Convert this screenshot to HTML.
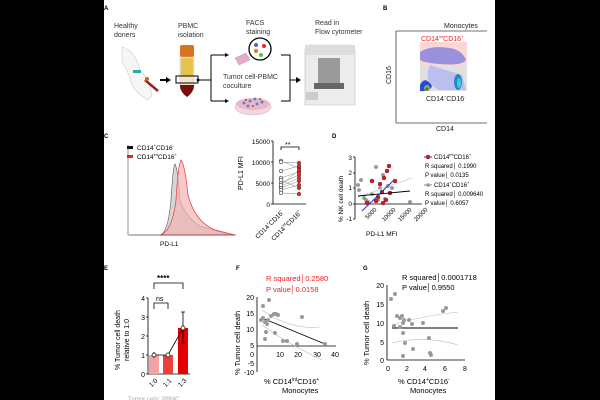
<!DOCTYPE html>
<html><head><meta charset="utf-8"><style>
html,body{margin:0;padding:0;background:#000;}
svg{display:block;font-family:"Liberation Sans",sans-serif;}
</style></head><body>
<svg width="600" height="400" viewBox="0 0 600 400" xmlns="http://www.w3.org/2000/svg">
<rect x="0" y="0" width="600" height="400" fill="#000"/>
<rect x="104" y="0" width="391" height="400" fill="#fff"/>
<g font-size="7" fill="#333">
<text x="104" y="10" font-weight="bold" font-size="6" fill="#000">A</text>
<text x="114" y="28">Healthy</text><text x="114" y="37">doners</text>
<text x="178" y="28">PBMC</text><text x="178" y="37">isolation</text>
<text x="246" y="25">FACS</text><text x="246" y="34">staining</text>
<text x="315" y="25">Read in</text><text x="315" y="34">Flow cytometer</text>
<text x="223" y="79">Tumor cell-PBMC</text><text x="223" y="88">coculture</text>
</g>
<path d="M122 47 Q135 50 140 70 Q150 80 152 95 L148 100 Q138 95 132 85 Q128 70 122 62Z" fill="#f6f6f6" stroke="#ccc" stroke-width="0.6"/>
<rect x="133" y="70" width="8" height="3" fill="#2aa"/>
<line x1="145" y1="80" x2="158" y2="91" stroke="#922" stroke-width="2.5"/>
<circle cx="147" cy="79" r="2" fill="#d60"/>
<path d="M160 80 L168 80" stroke="#000" stroke-width="2"/><path d="M166 77 L171 80 L166 83Z" fill="#000"/>
<rect x="180" y="45" width="14" height="12" rx="2" fill="#d9731f"/>
<path d="M180 57 L194 57 L194 88 Q187 100 180 88Z" fill="#f1e7c7" stroke="#bbb" stroke-width="0.5"/>
<rect x="181" y="58" width="12" height="18" fill="#e6c34a"/>
<path d="M180 85 L194 85 Q194 92 187 97 Q180 92 180 85Z" fill="#7a0e0e"/>
<rect x="176" y="76" width="22" height="7" fill="none" stroke="#000" stroke-width="1"/>
<circle cx="198" cy="80" r="1.5" fill="#000"/>
<path d="M198 80 H211 M211 55 V101 M211 55 H226 M211 101 H226" stroke="#000" stroke-width="1" fill="none"/>
<path d="M225 53 L229 55 L225 57Z M225 99 L229 101 L225 103Z" fill="#000"/>
<path d="M235 58 L246 53 L250 60 L239 65Z" fill="#e7a9c8" stroke="#999" stroke-width="0.4"/>
<circle cx="260" cy="49" r="11" fill="#fff" stroke="#000" stroke-width="1.3"/>
<circle cx="256" cy="45" r="2" fill="#56a"/><circle cx="264" cy="46" r="2" fill="#e22"/><circle cx="256" cy="51" r="2" fill="#c80"/><circle cx="261" cy="55" r="2" fill="#4c4"/>
<ellipse cx="253" cy="107" rx="18" ry="8" fill="#f4d6dc" stroke="#bbb" stroke-width="0.5"/>
<ellipse cx="253" cy="104" rx="17" ry="6" fill="#e7b9c8"/>
<g fill="#6a7fc0"><circle cx="244" cy="103" r="1.5"/><circle cx="250" cy="101" r="1.5"/><circle cx="257" cy="104" r="1.5"/><circle cx="262" cy="102" r="1.5"/><circle cx="248" cy="106" r="1.5"/><circle cx="255" cy="99" r="1.5"/></g>
<g fill="#e24"><circle cx="246" cy="100" r="1"/><circle cx="253" cy="106" r="1"/><circle cx="260" cy="99" r="1"/></g>
<path d="M281 55 H290 V101 H281 M290 80 H297" stroke="#000" stroke-width="1" fill="none"/>
<path d="M296 77 L301 80 L296 83Z" fill="#000"/>
<path d="M305 50 Q305 45 310 45 L350 45 Q355 45 355 50 L355 105 L305 105Z" fill="#ececec" stroke="#bbb" stroke-width="0.6"/>
<rect x="305" y="45" width="50" height="10" fill="#ddd"/>
<rect x="318" y="58" width="22" height="25" fill="#9a9a9a"/>
<rect x="314" y="83" width="30" height="6" fill="#666"/>
<rect x="306" y="92" width="12" height="8" fill="#ccc"/>
<text x="383" y="10" font-weight="bold" font-size="6">B</text>
<text x="444" y="28" font-size="7" fill="#222">Monocytes</text>
<rect x="420" y="42" width="47" height="23" fill="#fbd6d6"/>
<rect x="420" y="65" width="47" height="26" fill="#e0e0e0"/>
<path d="M420 52 Q430 45 450 48 Q462 50 466 60 Q462 66 440 64 Q425 63 420 60Z" fill="#5a62e0" opacity="0.6"/>
<path d="M430 65 Q445 70 462 75 L466 90 L440 90 Q425 85 428 70Z" fill="#aab0f2" opacity="0.7"/>
<path d="M420 85 Q425 75 432 86 Q430 92 420 91Z" fill="#2a4ad6"/>
<circle cx="427" cy="88" r="3" fill="#5c5"/><circle cx="427" cy="89" r="1.5" fill="#e22"/>
<ellipse cx="458" cy="82" rx="4" ry="8" fill="#28c"/><ellipse cx="459" cy="83" rx="2" ry="5" fill="#4cc"/>
<path d="M396 31 V123 H487 M396 31 H487" stroke="#444" stroke-width="0.8" fill="none"/>
<text x="421" y="41" font-size="7" fill="#e22">CD14<tspan font-size="4" dy="-3">int</tspan><tspan dy="3">CD16</tspan><tspan font-size="4" dy="-3">+</tspan></text>
<text x="426" y="101" font-size="7" fill="#222">CD14<tspan font-size="4" dy="-3">+</tspan><tspan dy="3">CD16</tspan><tspan font-size="4" dy="-3">-</tspan></text>
<text transform="translate(391,84) rotate(-90)" font-size="7" fill="#222">CD16</text>
<text x="436" y="131" font-size="7" fill="#222">CD14</text>
<text x="104" y="138" font-weight="bold" font-size="6">C</text>
<rect x="127" y="146" width="6" height="3" fill="#111"/><rect x="127" y="155" width="6" height="3" fill="#e22"/>
<text x="137" y="150" font-size="6.5">CD14<tspan font-size="4" dy="-3">+</tspan><tspan dy="3">CD16</tspan><tspan font-size="4" dy="-3">-</tspan></text>
<text x="137" y="159" font-size="6.5">CD14<tspan font-size="4" dy="-3">int</tspan><tspan dy="3">CD16</tspan><tspan font-size="4" dy="-3">+</tspan></text>
<path d="M130 235 L160 235 Q168 233 171 200 Q173 166 175 164 Q178 170 180 200 Q186 218 200 226 L230 235Z" fill="#ccc" fill-opacity="0.8" stroke="#555" stroke-width="0.6"/>
<path d="M160 235 Q172 232 176 200 Q178 165 181 160 Q185 165 188 195 Q195 222 215 230 L235 235Z" fill="#f4b3b3" fill-opacity="0.7" stroke="#e33" stroke-width="0.7"/>
<path d="M128 145 V235 H236" stroke="#444" stroke-width="0.6" fill="none"/>
<text x="160" y="246" font-size="6.5">PD-L1</text>
<g font-size="6.5" text-anchor="end"><text x="270" y="144">15000</text><text x="270" y="165">10000</text><text x="270" y="186">5000</text><text x="270" y="207">0</text></g>
<path d="M273 141 V204 H306 M271 141 H273 M271 162 H273 M271 183 H273 M271 204 H273" stroke="#000" stroke-width="0.8" fill="none"/>
<text transform="translate(243,190) rotate(-90)" font-size="7">PD-L1 MFI</text>
<path d="M281 150 V147 H299 V150" stroke="#000" stroke-width="0.8" fill="none"/><text x="285" y="147" font-size="7">**</text>
<g stroke="#888" stroke-width="0.5">
<line x1="281" y1="161" x2="299" y2="168"/><line x1="281" y1="162" x2="299" y2="163"/><line x1="281" y1="171" x2="299" y2="166"/><line x1="281" y1="178" x2="299" y2="172"/><line x1="281" y1="183" x2="299" y2="175"/><line x1="281" y1="186" x2="299" y2="178"/><line x1="281" y1="188" x2="299" y2="181"/><line x1="281" y1="190" x2="299" y2="185"/><line x1="281" y1="193" x2="299" y2="194"/><line x1="281" y1="185" x2="299" y2="170"/><line x1="281" y1="180" x2="299" y2="188"/>
</g>
<g fill="#fff" stroke="#333" stroke-width="0.6"><circle cx="281" cy="161" r="1.8"/><circle cx="281" cy="162" r="1.8"/><circle cx="281" cy="171" r="1.8"/><circle cx="281" cy="178" r="1.8"/><circle cx="281" cy="183" r="1.8"/><circle cx="281" cy="186" r="1.8"/><circle cx="281" cy="188" r="1.8"/><circle cx="281" cy="190" r="1.8"/><circle cx="281" cy="193" r="1.8"/><circle cx="281" cy="185" r="1.8"/><circle cx="281" cy="180" r="1.8"/></g>
<g fill="#e22" stroke="#333" stroke-width="0.5"><circle cx="299" cy="168" r="1.8"/><circle cx="299" cy="163" r="1.8"/><circle cx="299" cy="166" r="1.8"/><circle cx="299" cy="172" r="1.8"/><circle cx="299" cy="175" r="1.8"/><circle cx="299" cy="178" r="1.8"/><circle cx="299" cy="181" r="1.8"/><circle cx="299" cy="185" r="1.8"/><circle cx="299" cy="194" r="1.8"/><circle cx="299" cy="170" r="1.8"/><circle cx="299" cy="188" r="1.8"/></g>
<text transform="translate(284,213) rotate(-45)" font-size="6.5" text-anchor="end">CD14<tspan font-size="4" dy="-3">+</tspan><tspan dy="3">CD16</tspan><tspan font-size="4" dy="-3">-</tspan></text>
<text transform="translate(302,213) rotate(-45)" font-size="6.5" text-anchor="end">CD14<tspan font-size="4" dy="-3">int</tspan><tspan dy="3">CD16</tspan><tspan font-size="4" dy="-3">+</tspan></text>
<text x="332" y="138" font-weight="bold" font-size="6">D</text>
<g font-size="6.5" text-anchor="end"><text x="352" y="160">3</text><text x="352" y="175">2</text><text x="352" y="190">1</text><text x="352" y="206">0</text><text x="352" y="221">-1</text></g>
<path d="M355 157 V219 M355 204 H422 M353 157 H355 M353 173 H355 M353 188 H355 M353 204 H355 M353 219 H355" stroke="#000" stroke-width="0.8" fill="none"/>
<text transform="translate(343,222) rotate(-90)" font-size="6.5">% NK cell death</text>
<g font-size="6" text-anchor="end"><text transform="translate(377,210) rotate(-45)">5000</text><text transform="translate(396,210) rotate(-45)">10000</text><text transform="translate(412,210) rotate(-45)">15000</text><text transform="translate(428,210) rotate(-45)">20000</text></g>
<text x="366" y="236" font-size="6.5">PD-L1 MFI</text>
<g fill="#999" stroke="#777" stroke-width="0.3"><circle cx="358" cy="185" r="1.8"/><circle cx="361" cy="180" r="1.8"/><circle cx="359" cy="190" r="1.8"/><circle cx="364" cy="198" r="1.8"/><circle cx="368" cy="202" r="1.8"/><circle cx="372" cy="194" r="1.8"/><circle cx="378" cy="200" r="1.8"/><circle cx="383" cy="175" r="1.8"/><circle cx="376" cy="167" r="1.8"/><circle cx="388" cy="186" r="1.8"/><circle cx="385" cy="199" r="1.8"/><circle cx="392" cy="188" r="1.8"/><circle cx="410" cy="202" r="1.8"/><circle cx="366" cy="200" r="1.8"/><circle cx="380" cy="188" r="1.8"/></g>
<g fill="#e11" stroke="#333" stroke-width="0.4"><circle cx="367" cy="203" r="2"/><circle cx="378" cy="197" r="2"/><circle cx="380" cy="184" r="2"/><circle cx="384" cy="178" r="2"/><circle cx="387" cy="171" r="2"/><circle cx="389" cy="166" r="2"/><circle cx="383" cy="203" r="2"/><circle cx="376" cy="201" r="2"/><circle cx="386" cy="200" r="2"/><circle cx="390" cy="193" r="2"/><circle cx="395" cy="181" r="2"/><circle cx="372" cy="181" r="2"/><circle cx="382" cy="192" r="2"/></g>
<line x1="358" y1="197" x2="412" y2="178" stroke="#ccc" stroke-width="0.8"/>
<line x1="358" y1="196" x2="410" y2="191" stroke="#000" stroke-width="0.9"/>
<line x1="362" y1="211" x2="393" y2="181" stroke="#23d" stroke-width="1"/>
<g font-size="6"><line x1="424" y1="157" x2="432" y2="157" stroke="#23d"/><circle cx="428" cy="157" r="2" fill="#e11" stroke="#333" stroke-width="0.4"/>
<text x="434" y="159">CD14<tspan font-size="4" dy="-3">int</tspan><tspan dy="3">CD16</tspan><tspan font-size="4" dy="-3">+</tspan></text>
<text x="425" y="168">R squared│ 0.1990</text><text x="425" y="177">P value│ 0.0135</text>
<line x1="424" y1="185" x2="432" y2="185" stroke="#888"/><circle cx="428" cy="185" r="1.8" fill="#999"/>
<text x="434" y="187">CD14<tspan font-size="4" dy="-3">+</tspan><tspan dy="3">CD16</tspan><tspan font-size="4" dy="-3">+</tspan></text>
<text x="425" y="196">R squared│ 0.009640</text><text x="425" y="205">P value│ 0.6057</text></g>
<text x="104" y="270" font-weight="bold" font-size="6">E</text>
<g font-size="7" text-anchor="end"><text x="145" y="301">4</text><text x="145" y="320">3</text><text x="145" y="339">2</text><text x="145" y="358">1</text><text x="145" y="377">0</text></g>
<path d="M148 298 V374 H190 M146 298 H148 M146 317 H148 M146 336 H148 M146 355 H148 M146 374 H148" stroke="#000" stroke-width="0.8" fill="none"/>
<rect x="149" y="355" width="10" height="19" fill="#f4a3a3"/>
<rect x="163" y="355" width="10" height="19" fill="#ee3d3d"/>
<rect x="178" y="328" width="10" height="46" fill="#e50000"/>
<path d="M183 312 V343 M181 312 H185 M181 343 H185 M154 352 V358 M168 353 V357" stroke="#000" stroke-width="0.8"/>
<polyline points="154,355 168,355 183,328" fill="none" stroke="#000" stroke-width="0.8"/>
<g fill="#fff" stroke="#000" stroke-width="0.7"><circle cx="154" cy="355" r="2"/><circle cx="168" cy="355" r="2"/><circle cx="183" cy="328" r="2"/></g>
<path d="M154 289 V283 H183 V289 M154 309 V303 H168 V309" stroke="#000" stroke-width="0.8" fill="none"/>
<text x="157" y="281" font-size="8" font-weight="bold">****</text>
<text x="156" y="301" font-size="7">ns</text>
<text transform="translate(120,370) rotate(-90)" font-size="7">% Tumor cell death</text>
<text transform="translate(129,361) rotate(-90)" font-size="7">relative to 1:0</text>
<g font-size="6.5" text-anchor="end"><text transform="translate(158,381) rotate(-45)">1:0</text><text transform="translate(172,381) rotate(-45)">1:1</text><text transform="translate(187,381) rotate(-45)">1:3</text></g>
<text x="128" y="401" font-size="6" fill="#aaa">Tumor cells: PBMC</text>
<text x="236" y="270" font-weight="bold" font-size="6">F</text>
<text x="266" y="281" font-size="7.5" fill="#e22">R squared│0.2580</text>
<text x="266" y="292" font-size="7.5" fill="#e22">P value│0.0158</text>
<g font-size="7" text-anchor="end"><text x="254" y="300">20</text><text x="254" y="316">15</text><text x="254" y="332">10</text><text x="254" y="348">5</text><text x="254" y="357">0</text><text x="254" y="366">-5</text><text x="254" y="375">-10</text></g>
<path d="M257 297 V372 M257 346 H336" stroke="#000" stroke-width="0.8" fill="none"/>
<g font-size="7" text-anchor="middle"><text x="280" y="357">10</text><text x="298" y="357">20</text><text x="317" y="357">30</text><text x="335" y="357">40</text></g>
<text transform="translate(240,375) rotate(-90)" font-size="7.5">% Tumor cell death</text>
<text x="264" y="384" font-size="7.5">% CD14<tspan font-size="5" dy="-3">int</tspan><tspan dy="3">CD16</tspan><tspan font-size="5" dy="-3">+</tspan></text>
<text x="282" y="393" font-size="7.5">Monocytes</text>
<path d="M262 310 Q290 330 320 327" stroke="#bbb" fill="none" stroke-width="0.6"/>
<path d="M262 325 Q290 345 322 360" stroke="#bbb" fill="none" stroke-width="0.6"/>
<line x1="262" y1="318" x2="325" y2="344" stroke="#000" stroke-width="0.9"/>
<g fill="#999"><circle cx="263" cy="306" r="2"/><circle cx="269" cy="300" r="2"/><circle cx="263" cy="318" r="2"/><circle cx="265" cy="322" r="2"/><circle cx="267" cy="324" r="2"/><circle cx="268" cy="320" r="2"/><circle cx="271" cy="316" r="2"/><circle cx="274" cy="314" r="2"/><circle cx="276" cy="314" r="2"/><circle cx="278" cy="315" r="2"/><circle cx="266" cy="332" r="2"/><circle cx="265" cy="339" r="2"/><circle cx="275" cy="333" r="2"/><circle cx="283" cy="341" r="2"/><circle cx="287" cy="341" r="2"/><circle cx="297" cy="344" r="2"/><circle cx="302" cy="317" r="2"/><circle cx="325" cy="344" r="2"/><circle cx="261" cy="320" r="2"/></g>
<text x="363" y="270" font-weight="bold" font-size="6">G</text>
<text x="402" y="280" font-size="7.5">R squared│0.0001718</text>
<text x="402" y="290" font-size="7.5">P value│0.9550</text>
<g font-size="7" text-anchor="end"><text x="384" y="288">20</text><text x="384" y="307">15</text><text x="384" y="326">10</text><text x="384" y="345">5</text><text x="384" y="363">0</text></g>
<path d="M387 285 V360 H465" stroke="#000" stroke-width="0.8" fill="none"/>
<g font-size="7" text-anchor="middle"><text x="388" y="371">0</text><text x="407" y="371">2</text><text x="425" y="371">4</text><text x="445" y="371">6</text><text x="465" y="371">8</text></g>
<text transform="translate(369,365) rotate(-90)" font-size="7.5">% Tumor cell death</text>
<text x="398" y="384" font-size="7.5">% CD14<tspan font-size="5" dy="-3">+</tspan><tspan dy="3">CD16</tspan><tspan font-size="5" dy="-3">-</tspan></text>
<text x="410" y="393" font-size="7.5">Monocytes</text>
<path d="M392 325 Q425 315 458 312" stroke="#bbb" fill="none" stroke-width="0.6"/>
<path d="M392 343 Q425 335 458 345" stroke="#bbb" fill="none" stroke-width="0.6"/>
<line x1="392" y1="328" x2="458" y2="328" stroke="#000" stroke-width="0.9"/>
<g fill="#999"><circle cx="391" cy="299" r="2"/><circle cx="395" cy="294" r="2"/><circle cx="394" cy="326" r="2"/><circle cx="397" cy="316" r="2"/><circle cx="400" cy="318" r="2"/><circle cx="402" cy="316" r="2"/><circle cx="400" cy="327" r="2"/><circle cx="403" cy="323" r="2"/><circle cx="404" cy="320" r="2"/><circle cx="403" cy="333" r="2"/><circle cx="405" cy="343" r="2"/><circle cx="403" cy="356" r="2"/><circle cx="412" cy="324" r="2"/><circle cx="413" cy="349" r="2"/><circle cx="409" cy="320" r="2"/><circle cx="423" cy="323" r="2"/><circle cx="430" cy="353" r="2"/><circle cx="431" cy="355" r="2"/><circle cx="429" cy="338" r="2"/><circle cx="443" cy="311" r="2"/><circle cx="446" cy="308" r="2"/></g>
<rect x="495" y="0" width="105" height="400" fill="#000"/>
<rect x="0" y="0" width="104" height="400" fill="#000"/>
</svg>
</body></html>
